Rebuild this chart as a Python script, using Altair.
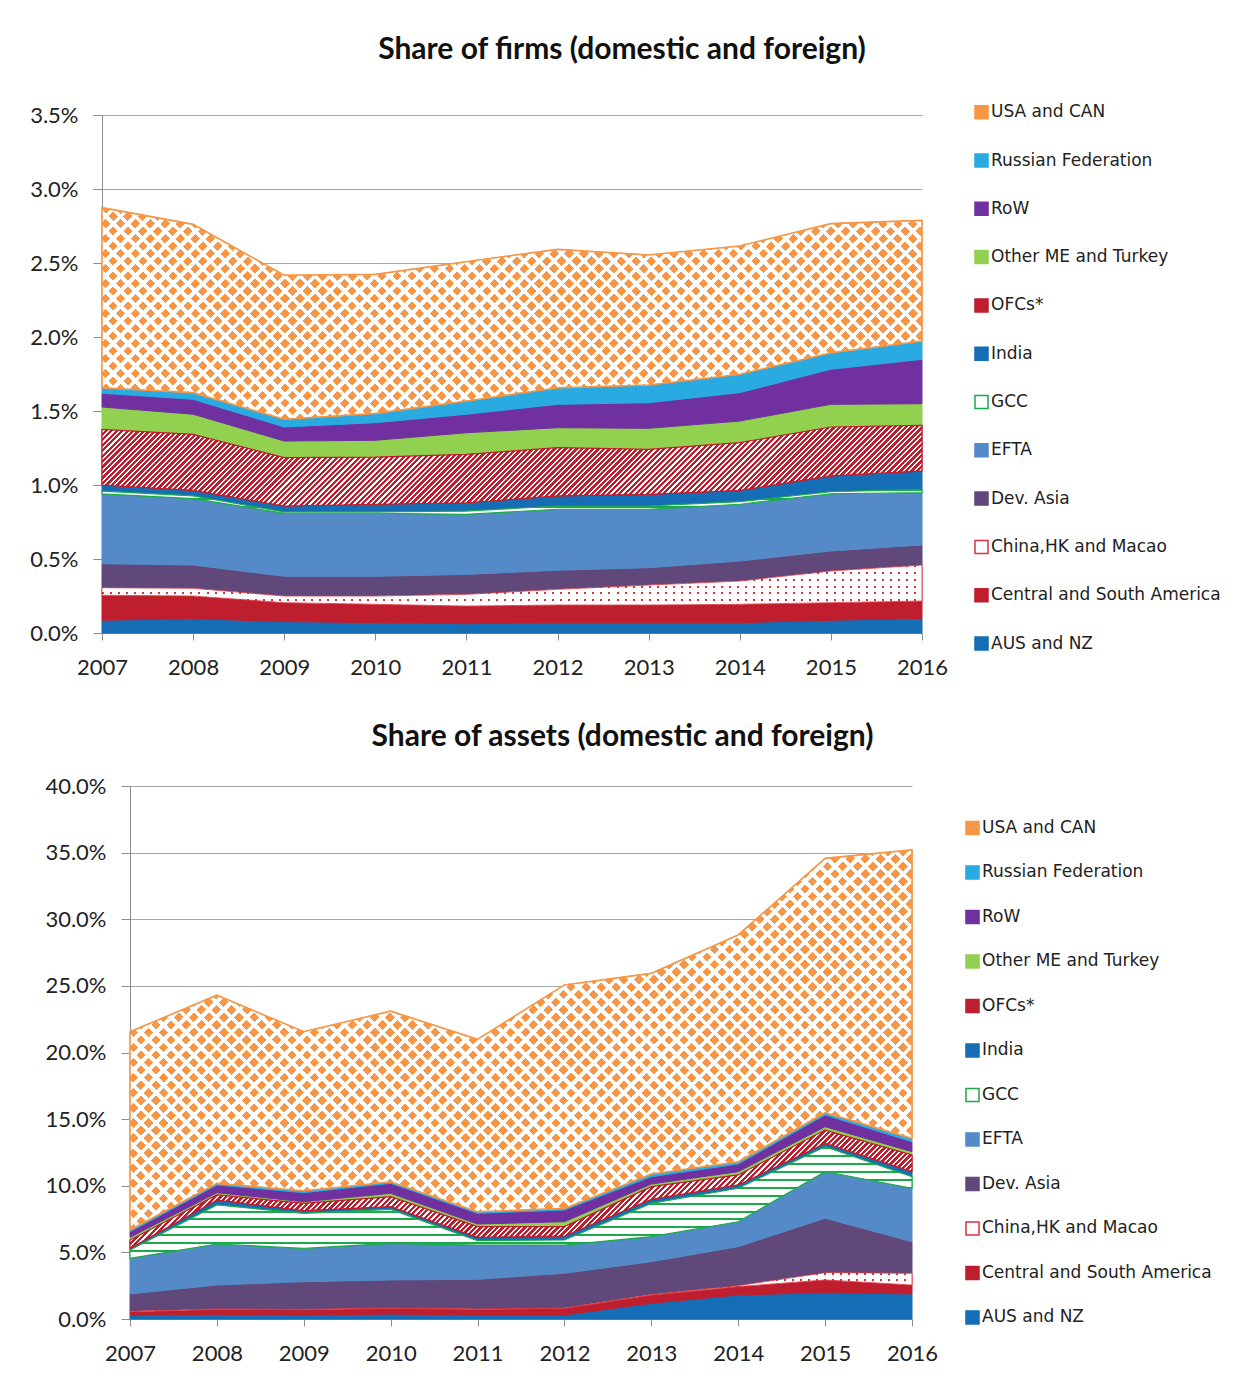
import altair as alt
import pandas as pd
import numpy as np

years = list(range(2007, 2017))

# stacking order, bottom -> top
series_names = [
    "AUS and NZ", "Central and South America", "China,HK and Macao", "Dev. Asia",
    "EFTA", "GCC", "India", "OFCs*", "Other ME and Turkey", "RoW",
    "Russian Federation", "USA and CAN",
]

# ---- Share of firms (%)
firms_aus = [0.086, 0.097, 0.077, 0.070, 0.063, 0.070, 0.070, 0.070, 0.086, 0.099]
firms_csa = [0.169, 0.153, 0.128, 0.124, 0.119, 0.119, 0.119, 0.124, 0.119, 0.117]
firms_china = [0.051, 0.052, 0.045, 0.056, 0.079, 0.106, 0.135, 0.157, 0.214, 0.243]
firms_devasia = [0.162, 0.157, 0.133, 0.133, 0.135, 0.129, 0.117, 0.135, 0.135, 0.136]
firms_efta = [0.473, 0.449, 0.426, 0.426, 0.406, 0.412, 0.395, 0.384, 0.387, 0.353]
firms_gcc = [0.018, 0.018, 0.009, 0.009, 0.022, 0.022, 0.022, 0.017, 0.014, 0.023]
firms_india = [0.041, 0.038, 0.040, 0.052, 0.056, 0.068, 0.079, 0.077, 0.106, 0.124]
firms_ofc = [0.376, 0.378, 0.327, 0.319, 0.327, 0.326, 0.304, 0.322, 0.331, 0.308]
firms_otherme = [0.151, 0.136, 0.112, 0.113, 0.146, 0.135, 0.142, 0.146, 0.153, 0.146]
firms_row = [0.093, 0.101, 0.095, 0.119, 0.125, 0.158, 0.173, 0.192, 0.237, 0.300]
firms_russia = [0.037, 0.045, 0.052, 0.063, 0.090, 0.112, 0.120, 0.124, 0.112, 0.124]
firms_usa = [1.217, 1.137, 0.973, 0.939, 0.941, 0.935, 0.878, 0.867, 0.872, 0.815]

# ---- Share of assets (%)
assets_aus = [0.30, 0.35, 0.30, 0.37, 0.30, 0.30, 1.18, 1.80, 1.98, 1.88]
assets_csa = [0.25, 0.38, 0.40, 0.43, 0.43, 0.50, 0.62, 0.63, 0.95, 0.67]
assets_china = [0.03, 0.02, 0.02, 0.02, 0.02, 0.02, 0.03, 0.07, 0.55, 0.88]
assets_devasia = [1.30, 1.80, 2.08, 2.11, 2.23, 2.61, 2.47, 2.93, 4.08, 2.37]
assets_efta = [2.67, 3.08, 2.50, 2.75, 2.57, 2.12, 1.88, 1.87, 3.50, 4.01]
assets_gcc = [0.63, 2.93, 2.63, 2.55, 0.33, 0.38, 2.50, 2.51, 1.87, 0.87]
assets_india = [0.12, 0.37, 0.20, 0.20, 0.25, 0.30, 0.30, 0.25, 0.25, 0.38]
assets_ofc = [0.63, 0.38, 0.55, 0.75, 0.80, 0.70, 0.95, 0.75, 1.00, 1.25]
assets_otherme = [0.20, 0.17, 0.12, 0.25, 0.20, 0.37, 0.20, 0.25, 0.25, 0.25]
assets_row = [0.42, 0.58, 0.68, 0.75, 0.80, 0.88, 0.55, 0.57, 0.88, 0.75]
assets_russia = [0.13, 0.12, 0.15, 0.12, 0.12, 0.12, 0.20, 0.17, 0.17, 0.25]
assets_usa = [14.88, 14.12, 11.93, 12.80, 12.94, 16.77, 15.06, 17.02, 19.09, 21.64]

firms_ticks = [0.0, 0.5, 1.0, 1.5, 2.0, 2.5, 3.0, 3.5]
assets_ticks = [0.0, 5.0, 10.0, 15.0, 20.0, 25.0, 30.0, 35.0, 40.0]

firms_cols = [firms_aus, firms_csa, firms_china, firms_devasia, firms_efta, firms_gcc,
              firms_india, firms_ofc, firms_otherme, firms_row, firms_russia, firms_usa]
assets_cols = [assets_aus, assets_csa, assets_china, assets_devasia, assets_efta, assets_gcc,
               assets_india, assets_ofc, assets_otherme, assets_row, assets_russia, assets_usa]

ORANGE = "#F79646"
RED = "#BE1E2D"
GREEN = "#1BAA4B"
CHINA_RED = "#D9333F"
fills = {
    "USA and CAN": ORANGE, "Russian Federation": "#29ABE2", "RoW": "#7030A0",
    "Other ME and Turkey": "#92D050", "OFCs*": RED, "India": "#156DB5",
    "GCC": "#FFFFFF", "EFTA": "#558AC8", "Dev. Asia": "#60497A",
    "China,HK and Macao": "#FFFFFF", "Central and South America": RED,
    "AUS and NZ": "#156DB5",
}
strokes = dict(fills)
strokes["GCC"] = GREEN
strokes["China,HK and Macao"] = CHINA_RED

legend_order = list(reversed(series_names))
FONT = "Lato"


def make_df(cols):
    rows = []
    for i, (name, vals) in enumerate(zip(series_names, cols)):
        for yr, v in zip(years, vals):
            rows.append({"year": yr, "series": name, "order": i, "value": v})
    return pd.DataFrame(rows)


def stripe_stops(n, on, off, duty):
    out = []
    for k in range(n):
        a = round(k / n, 5)
        b = round((k + duty) / n, 5)
        c = round((k + 1) / n, 5)
        out += [{"offset": a, "color": on}, {"offset": b, "color": on},
                {"offset": b, "color": off}, {"offset": c, "color": off}]
    return out


def diag_gradient(w, h, pitch, on, off, duty, rising=True):
    r = h / w
    s = (1 + r) / (1 + r * r)
    n = max(1, int(round((w + h) / pitch)))
    st = stripe_stops(n, on, off, duty)
    if rising:
        return {"gradient": "linear", "x1": 0, "y1": 0, "x2": s, "y2": s * r, "stops": st}
    return {"gradient": "linear", "x1": 0, "y1": 1, "x2": s, "y2": 1 - s * r, "stops": st}


def horiz_lines(h, pitch, on, off, duty):
    n = max(1, int(round(h / pitch)))
    return {"gradient": "linear", "x1": 0, "y1": 0, "x2": 0, "y2": 1,
            "stops": stripe_stops(n, on, off, duty)}


def vert_lines(w, pitch, on, off, duty):
    n = max(1, int(round(w / pitch)))
    return {"gradient": "linear", "x1": 0, "y1": 0, "x2": 1, "y2": 0,
            "stops": stripe_stops(n, on, off, duty)}


def panel(cols, ymax, ticks, W, H, title, xshift, lx, ly, rowpad, title_offset, title_dx):
    df = make_df(cols)
    cum = np.cumsum(np.array(cols), axis=0)
    bottoms = np.vstack([np.zeros(len(years)), cum[:-1]])

    def bbox_h(name):
        i = series_names.index(name)
        return max(1.0, (cum[i].max() - bottoms[i].min()) / ymax * H)

    base = alt.Chart(df).transform_stack(
        stack="value", groupby=["year"],
        sort=[alt.SortField("order", order="ascending")], as_=["y0", "y1"])

    if xshift:
        xscale = alt.Scale(domain=[2007, 2016], nice=False, zero=False, range=[xshift, xshift + W])
    else:
        xscale = alt.Scale(domain=[2007, 2016], nice=False, zero=False)
    yscale = alt.Scale(domain=[0, ymax], nice=False, zero=True)
    xaxis = alt.Axis(values=years, format="d", title=None, labelFont=FONT, labelFontSize=22,
                     labelColor="#222222", tickSize=7, tickColor="#8C8C8C", domainColor="#8C8C8C",
                     labelPadding=17, grid=False, labelFlush=False, labelOverlap=False)
    yaxis = alt.Axis(values=ticks, labelExpr="format(datum.value, '.1f') + '%'", title=None,
                     labelFont=FONT, labelFontSize=22, labelColor="#222222", tickSize=9,
                     tickColor="#8C8C8C", domainColor="#8C8C8C", labelPadding=15,
                     grid=True, gridColor="#A6A6A6", gridWidth=1.2,
                     minExtent=89, maxExtent=89, labelOverlap=False, offset=-xshift)
    leg = alt.Legend(title=None, orient="none", legendX=lx, legendY=ly, symbolType="square",
                     symbolSize=170, symbolStrokeWidth=1.5, labelFont="DejaVu Sans",
                     labelFontSize=17, labelColor="#222222", rowPadding=rowpad,
                     labelOffset=1, padding=0, labelLimit=400)

    xenc = alt.X("year:Q", scale=xscale, axis=xaxis)
    yenc = alt.Y("y1:Q", stack=None, scale=yscale, axis=yaxis)

    layers = [
        base.mark_area(strokeWidth=1).encode(
            x=xenc, y=yenc, y2="y0:Q",
            fill=alt.Fill("series:N", scale=alt.Scale(domain=legend_order,
                          range=[fills[s] for s in legend_order]), legend=leg),
            stroke=alt.Stroke("series:N", scale=alt.Scale(domain=legend_order,
                              range=[strokes[s] for s in legend_order]), legend=leg),
        )
    ]

    def overlay(name, **mark):
        return base.transform_filter(alt.datum.series == name).mark_area(**mark).encode(
            x=xenc, y=yenc, y2="y0:Q",
        )

    # USA and CAN: orange diamond lattice
    h = bbox_h("USA and CAN")
    layers.append(overlay("USA and CAN", fill=diag_gradient(W, h, 15, ORANGE, "#FFFFFF", 0.63, True)))
    layers.append(overlay("USA and CAN", fill=diag_gradient(W, h, 15, "transparent", "#FFFFFF", 0.63, False)))
    layers.append(overlay("USA and CAN", fillOpacity=0, stroke=ORANGE, strokeWidth=1.6))
    # OFCs: red with white diagonal stripes
    h = bbox_h("OFCs*")
    layers.append(overlay("OFCs*", fill=diag_gradient(W, h, 5.5, "#FFFFFF", RED, 0.4, True)))
    layers.append(overlay("OFCs*", fillOpacity=0, stroke=RED, strokeWidth=1.2))
    # GCC: white with green horizontal lines
    h = bbox_h("GCC")
    layers.append(overlay("GCC", fill=horiz_lines(h, 8, GREEN, "#FFFFFF", 0.25)))
    layers.append(overlay("GCC", fillOpacity=0, stroke=GREEN, strokeWidth=1.2))
    # China: white with small red dots
    h = bbox_h("China,HK and Macao")
    layers.append(overlay("China,HK and Macao", fill=vert_lines(W, 8, CHINA_RED, "#FFFFFF", 0.25)))
    layers.append(overlay("China,HK and Macao", fill=horiz_lines(h, 7, "transparent", "#FFFFFF", 0.3)))
    layers.append(overlay("China,HK and Macao", fillOpacity=0, stroke=CHINA_RED, strokeWidth=0.8))

    return alt.layer(*layers).properties(
        width=W + xshift, height=H,
        title=alt.TitleParams(title, font=FONT, fontSize=30, fontWeight="bold", color="#111111",
                              anchor="middle", frame="bounds", offset=title_offset, dx=title_dx),
    )


top = panel(firms_cols, 3.5, firms_ticks, 820, 518, "Share of firms (domestic and foreign)",
            0, 871, -11.3, 27.3, 39, 5)
bottom = panel(assets_cols, 40.0, assets_ticks, 782, 533, "Share of assets (domestic and foreign)",
               28, 862, 33.4, 23.5, 23, -4)

chart = alt.concat(top, bottom, columns=1, spacing=44).resolve_scale(
    fill="independent", stroke="independent"
).resolve_legend(
    fill="independent", stroke="independent"
).properties(
    padding={"left": 5, "top": 26, "right": 5, "bottom": 5}
).configure_view(stroke=None).configure_legend(symbolOpacity=1)

chart.save("out.html", embed_options={"renderer": "svg", "actions": False})
